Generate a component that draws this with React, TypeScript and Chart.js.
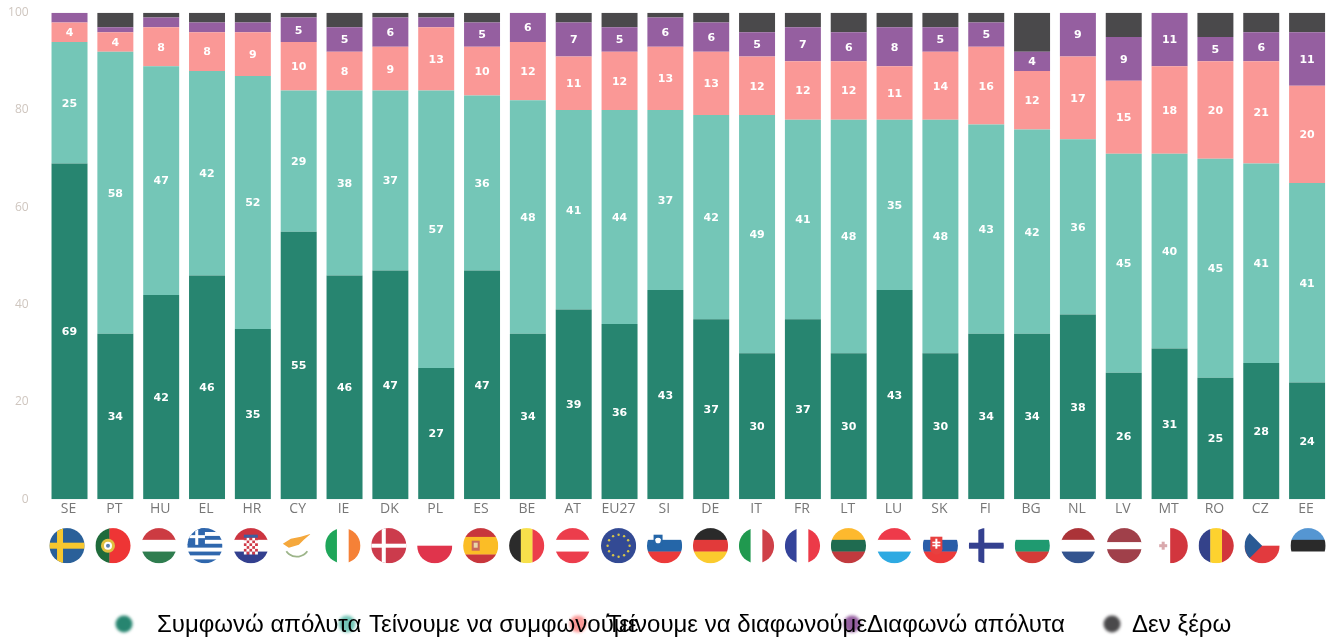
import React, { useEffect, useRef } from "react";
import { Chart, registerables } from "chart.js";

Chart.register(...registerables);

const categories = ["SE","PT","HU","EL","HR","CY","IE","DK","PL","ES","BE","AT","EU27","SI","DE","IT","FR","LT","LU","SK","FI","BG","NL","LV","MT","RO","CZ","EE"];
const stronglyAgree = [69,34,42,46,35,55,46,47,27,47,34,39,36,43,37,30,37,30,43,30,34,34,38,26,31,25,28,24];
const tendAgree = [25,58,47,42,52,29,38,37,57,36,48,41,44,37,42,49,41,48,35,48,43,42,36,45,40,45,41,41];
const tendDisagree = [4,4,8,8,9,10,8,9,13,10,12,11,12,13,13,12,12,12,11,14,16,12,17,15,18,20,21,20];
const stronglyDisagree = [2,1,2,2,2,5,5,6,2,5,6,7,5,6,6,5,7,6,8,5,5,4,9,9,11,5,6,11];
const dontKnow = [0,3,1,2,2,1,3,1,1,2,0,2,3,1,2,4,3,4,3,3,2,8,0,5,0,5,4,4];
const seriesNames = ["Συμφωνώ απόλυτα","Τείνουμε να συμφωνούμε","Τείνουμε να διαφωνούμε","Διαφωνώ απόλυτα","Δεν ξέρω"];
const seriesColors = ["#278570","#74c6b7","#fa9896","#955fa0","#4a494b"];
const seriesValues = [stronglyAgree,tendAgree,tendDisagree,stronglyDisagree,dontKnow];
const legendTextX = [157,369,607,867,1132];
const legendDotX = [124,347,578,852,1112];

type C = CanvasRenderingContext2D;

function hStripes(c: C, cx: number, cy: number, r: number, cols: string[], w?: number[]) {
  const weights = w || cols.map(() => 1);
  const tot = weights.reduce((a, b) => a + b, 0);
  let y = cy - r;
  cols.forEach((col, i) => {
    const h = (2 * r * weights[i]) / tot;
    c.fillStyle = col;
    c.fillRect(cx - r, y, 2 * r, h + 0.3);
    y += h;
  });
}
function vStripes(c: C, cx: number, cy: number, r: number, cols: string[], w?: number[]) {
  const weights = w || cols.map(() => 1);
  const tot = weights.reduce((a, b) => a + b, 0);
  let x = cx - r;
  cols.forEach((col, i) => {
    const d = (2 * r * weights[i]) / tot;
    c.fillStyle = col;
    c.fillRect(x, cy - r, d + 0.3, 2 * r);
    x += d;
  });
}
function rect(c: C, col: string, x: number, y: number, w: number, h: number) {
  c.fillStyle = col;
  c.fillRect(x, y, w, h);
}
function dot(c: C, col: string, x: number, y: number, r: number) {
  c.fillStyle = col;
  c.beginPath();
  c.arc(x, y, r, 0, Math.PI * 2);
  c.fill();
}
function drawFlag(c: C, code: string, x: number, y: number, r: number) {
  c.save();
  c.beginPath();
  c.arc(x, y, r, 0, Math.PI * 2);
  c.clip();
  switch (code) {
    case "SE":
      rect(c, "#2a6099", x - r, y - r, 2 * r, 2 * r);
      rect(c, "#f7c72e", x - r, y - 3, 2 * r, 6);
      rect(c, "#f7c72e", x - 10, y - r, 6, 2 * r);
      break;
    case "PT":
      vStripes(c, x, y, r, ["#1f6b3b", "#ee3535"], [2, 3]);
      dot(c, "#e0c040", x - 5, y, 7);
      dot(c, "#ffffff", x - 5, y, 4);
      dot(c, "#5a7fb0", x - 5, y, 2);
      break;
    case "HU":
      hStripes(c, x, y, r, ["#cc3b42", "#ffffff", "#2f7d4f"]);
      break;
    case "EL":
      hStripes(c, x, y, r, ["#2f67ad","#ffffff","#2f67ad","#ffffff","#2f67ad","#ffffff","#2f67ad","#ffffff","#2f67ad"]);
      rect(c, "#2f67ad", x - r, y - r, r, r * 0.95);
      rect(c, "#ffffff", x - r, y - r * 0.6, r, 3);
      rect(c, "#ffffff", x - r * 0.55, y - r, 3, r * 0.95);
      break;
    case "HR":
      hStripes(c, x, y, r, ["#cc3440", "#ffffff", "#33408f"]);
      for (let i = 0; i < 5; i++)
        for (let j = 0; j < 6; j++) {
          rect(c, (i + j) % 2 ? "#ffffff" : "#d03a48", x - 7 + i * 2.8, y - 8 + j * 2.8, 2.8, 2.8);
        }
      rect(c, "#3b5fa0", x - 7, y - 11, 14, 3);
      break;
    case "CY":
      rect(c, "#ffffff", x - r, y - r, 2 * r, 2 * r);
      c.fillStyle = "#f5a83c";
      c.beginPath();
      c.moveTo(x - 14, y - 2);
      c.lineTo(x - 6, y - 7);
      c.lineTo(x + 4, y - 9);
      c.lineTo(x + 14, y - 12);
      c.lineTo(x + 7, y - 6);
      c.lineTo(x + 2, y - 1);
      c.lineTo(x - 8, y + 2);
      c.closePath();
      c.fill();
      c.strokeStyle = "#9db58a";
      c.lineWidth = 1.8;
      c.beginPath();
      c.arc(x, y - 2, 13, Math.PI * 0.2, Math.PI * 0.8);
      c.stroke();
      break;
    case "IE":
      vStripes(c, x, y, r, ["#1fa65a", "#ffffff", "#f58137"]);
      break;
    case "DK":
      rect(c, "#cc3b4c", x - r, y - r, 2 * r, 2 * r);
      rect(c, "#ffffff", x - r, y - 2, 2 * r, 4);
      rect(c, "#ffffff", x - 7, y - r, 4, 2 * r);
      break;
    case "PL":
      hStripes(c, x, y, r, ["#ffffff", "#e0344c"]);
      break;
    case "ES":
      hStripes(c, x, y, r, ["#c8363c", "#fbbd26", "#c8363c"], [1, 2, 1]);
      rect(c, "#c9695a", x - 9, y - 5, 8, 10);
      rect(c, "#e9d7a8", x - 7, y - 3, 4, 5);
      break;
    case "BE":
      vStripes(c, x, y, r, ["#2b2b2b", "#f7e04b", "#ec3d4a"]);
      break;
    case "AT":
      hStripes(c, x, y, r, ["#ec3d4c", "#ffffff", "#ec3d4c"]);
      break;
    case "EU27":
      rect(c, "#334a94", x - r, y - r, 2 * r, 2 * r);
      for (let i = 0; i < 12; i++) {
        const a = (i / 12) * Math.PI * 2;
        dot(c, "#d6c54a", x + Math.cos(a) * 11, y + Math.sin(a) * 11, 1.2);
      }
      break;
    case "SI":
      hStripes(c, x, y, r, ["#ffffff", "#2566a8", "#ec3a3a"]);
      rect(c, "#2566a8", x - 11, y - 11, 9, 11);
      dot(c, "#ffffff", x - 6.5, y - 5, 3);
      dot(c, "#2566a8", x - 6.5, y - 2, 4.2);
      dot(c, "#ffffff", x - 6.5, y - 5, 2.6);
      break;
    case "DE":
      hStripes(c, x, y, r, ["#2a2a2a", "#e23a3a", "#fbcb2e"]);
      break;
    case "IT":
      vStripes(c, x, y, r, ["#20994f", "#ffffff", "#cf4048"]);
      break;
    case "FR":
      vStripes(c, x, y, r, ["#34439a", "#ffffff", "#ec3a48"]);
      break;
    case "LT":
      hStripes(c, x, y, r, ["#fdb92e", "#1f6b50", "#c23a3e"]);
      break;
    case "LU":
      hStripes(c, x, y, r, ["#ee3a4a", "#ffffff", "#2eaae2"]);
      break;
    case "SK":
      hStripes(c, x, y, r, ["#ffffff", "#2a5da8", "#ec3a3a"]);
      rect(c, "#e8403f", x - 10, y - 9, 12, 13);
      dot(c, "#e8403f", x - 4, y + 3, 6);
      rect(c, "#ffffff", x - 5, y - 7, 2, 10);
      rect(c, "#ffffff", x - 8, y - 4, 8, 1.6);
      rect(c, "#ffffff", x - 8, y - 1, 8, 1.6);
      break;
    case "FI":
      rect(c, "#ffffff", x - r, y - r, 2 * r, 2 * r);
      rect(c, "#34408f", x - r, y - 3, 2 * r, 6);
      rect(c, "#34408f", x - 8, y - r, 6, 2 * r);
      break;
    case "BG":
      hStripes(c, x, y, r, ["#ffffff", "#1f9a70", "#d43c38"]);
      break;
    case "NL":
      hStripes(c, x, y, r, ["#ab3338", "#ffffff", "#33548f"]);
      break;
    case "LV":
      hStripes(c, x, y, r, ["#a0404a", "#ffffff", "#a0404a"], [2, 1, 2]);
      break;
    case "MT":
      vStripes(c, x, y, r, ["#ffffff", "#d2363e"]);
      rect(c, "#d9a9ad", x - 11, y - 1.5, 8, 3);
      rect(c, "#d9a9ad", x - 8.5, y - 4, 3, 8);
      break;
    case "RO":
      vStripes(c, x, y, r, ["#34428a", "#fdd22f", "#d2363c"]);
      break;
    case "CZ":
      hStripes(c, x, y, r, ["#ffffff", "#e23a3e"]);
      c.fillStyle = "#2a5a94";
      c.beginPath();
      c.moveTo(x - r, y - r);
      c.lineTo(x, y);
      c.lineTo(x - r, y + r);
      c.closePath();
      c.fill();
      break;
    case "EE":
      hStripes(c, x, y, r, ["#5596d2", "#2a2a2a", "#ffffff"]);
      break;
  }
  c.restore();
}

const flagsPlugin = {
  id: "flags",
  afterDraw(chart: any) {
    const c: C = chart.ctx;
    const sx = chart.scales.x;
    const n = categories.length;
    categories.forEach((code, i) => {
      const shift = -2.5 + (3.5 * i) / (n - 1);
      drawFlag(c, code, sx.getPixelForValue(i) + shift, 545.7, 17.6);
    });
    c.save();
    c.filter = "blur(1.4px)";
    seriesColors.forEach((col, i) => dot(c, col, legendDotX[i], 624, 8.5));
    c.restore();
  },
};

const valueLabels = {
  id: "valueLabels",
  afterDatasetsDraw(chart: any) {
    const c: C = chart.ctx;
    c.save();
    c.font = "bold 11px 'DejaVu Sans'";
    c.fillStyle = "#ffffff";
    c.textAlign = "center";
    c.textBaseline = "middle";
    chart.data.datasets.forEach((ds: any, di: number) => {
      if (di === 4) return;
      chart.getDatasetMeta(di).data.forEach((bar: any, i: number) => {
        const v = ds.data[i];
        if (v >= 4) c.fillText(String(v), bar.x, (bar.y + bar.base) / 2 + 1);
      });
    });
    c.restore();
  },
};

export default function App() {
  const ref = useRef<HTMLCanvasElement>(null);
  useEffect(() => {
    document.body.style.margin = "0";
    const chart = new Chart(ref.current!, {
      type: "bar",
      data: {
        labels: categories,
        datasets: seriesNames.map((name, i) => ({
          label: name,
          data: seriesValues[i],
          backgroundColor: seriesColors[i],
          borderWidth: 0,
          barPercentage: 0.785,
          categoryPercentage: 1,
        })),
      },
      options: {
        animation: false,
        responsive: false,
        layout: { padding: { top: 12.7, right: 4, left: 0, bottom: 0 } },
        plugins: { legend: { display: false }, tooltip: { enabled: false } },
        scales: {
          x: {
            stacked: true,
            grid: { display: false, tickLength: 0 },
            border: { display: false },
            afterFit: (s: any) => { s.height = 138.7; s.paddingLeft = 0; s.paddingRight = 0; },
            ticks: {
              color: "#777777",
              font: { family: "'Open Sans'", size: 14 },
              padding: 1,
              maxRotation: 0,
              autoSkip: false,
              labelOffset: -1,
            },
          },
          y: {
            stacked: true,
            min: 0,
            max: 100,
            grid: { display: false, tickLength: 0 },
            border: { display: false },
            afterFit: (s: any) => { s.width = 46.6; s.paddingTop = 0; s.paddingBottom = 0; },
            ticks: {
              color: "#cfc6bf",
              font: { family: "'Open Sans'", size: 12 },
              stepSize: 20,
              padding: 18,
            },
          },
        },
      },
      plugins: [valueLabels, flagsPlugin],
    } as any);
    return () => chart.destroy();
  }, []);
  return (
    <div style={{ position: "relative", width: 1334, height: 638, overflow: "hidden", background: "#fff" }}>
      <canvas
        ref={ref}
        width={1334}
        height={638}
        style={{ position: "absolute", left: 0, top: 0, width: 1334, height: 638, filter: "blur(0.6px)" }}
      />
      {seriesNames.map((name, i) => (
        <span
          key={name}
          style={{
            position: "absolute",
            left: legendTextX[i],
            top: 610,
            lineHeight: "28px",
            fontFamily: "'Liberation Sans', Arial, sans-serif",
            fontSize: 24,
            color: "#000",
            whiteSpace: "nowrap",
          }}
        >
          {name}
        </span>
      ))}
    </div>
  );
}
